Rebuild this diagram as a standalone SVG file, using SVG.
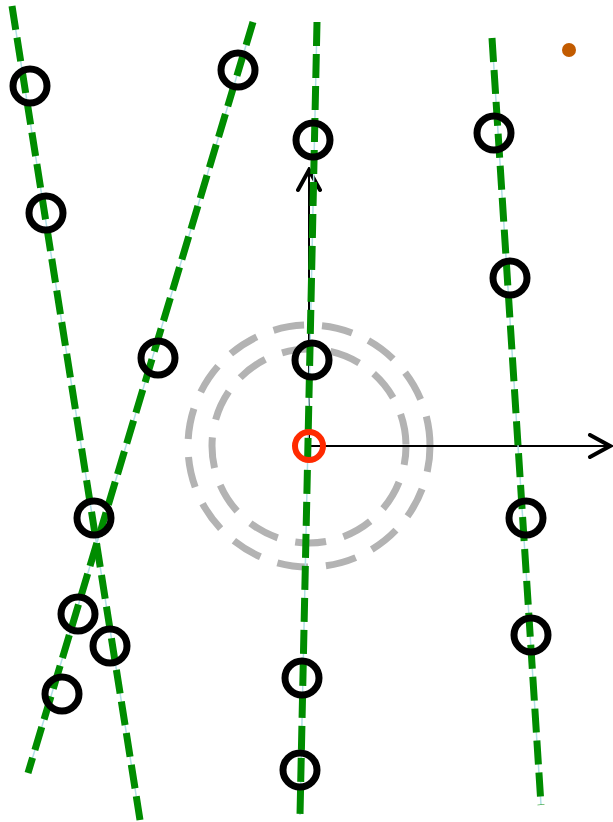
<svg xmlns="http://www.w3.org/2000/svg" width="613" height="822" viewBox="0 0 613 822">
  <style>
    .guide { stroke: #b0e0e6; stroke-width: 1.5; fill: none; }
    .track { stroke: #008c00; stroke-width: 7; stroke-dasharray: 24 8; fill: none; }
    .ring { fill: none; stroke: #000; stroke-width: 7; }
    .halo { fill: none; stroke: #b3b3b3; stroke-width: 7; stroke-dasharray: 31 18; }
    .axis { stroke: #000; stroke-width: 2; fill: none; }
  </style>
  <defs>
    <marker id="chev" viewBox="0 0 26 26" refX="23" refY="13" markerWidth="26" markerHeight="26" markerUnits="userSpaceOnUse" orient="auto">
      <path d="M3,2 L23,13 L3,24" fill="none" stroke="#000" stroke-width="4" stroke-linecap="round" stroke-linejoin="miter"/>
    </marker>
  </defs>

  <!-- range halos around origin -->
  <g id="halos">
    <circle class="halo" cx="309" cy="446" r="121" stroke-dashoffset="5"/>
    <circle class="halo" cx="309" cy="446" r="97" stroke-dashoffset="12"/>
  </g>

  <!-- coordinate axes -->
  <g id="axes">
    <line class="axis" x1="309" y1="446" x2="610" y2="446" marker-end="url(#chev)"/>
    <line class="axis" x1="309" y1="446" x2="309" y2="170" marker-end="url(#chev)"/>
  </g>

  <!-- fitted lines -->
  <g id="connectors">
    <line class="guide" x1="12" y1="6" x2="140" y2="820"/>
    <line class="track" x1="12" y1="6" x2="140" y2="820"/>
    <line class="guide" x1="253" y1="22" x2="28" y2="773"/>
    <line class="track" x1="253" y1="22" x2="28" y2="773"/>
    <line class="guide" x1="317" y1="22" x2="300" y2="815"/>
    <line class="track" x1="317" y1="22" x2="300" y2="815"/>
    <line class="guide" x1="492" y1="38" x2="541" y2="805"/>
    <line class="track" x1="492" y1="38" x2="541" y2="805"/>
  </g>

  <!-- detections -->
  <g id="n1"><circle class="ring" cx="30" cy="86" r="17"/></g>
  <g id="n2"><circle class="ring" cx="46" cy="213" r="17"/></g>
  <g id="n3"><circle class="ring" cx="238" cy="70" r="17"/></g>
  <g id="n4"><circle class="ring" cx="158" cy="358" r="17"/></g>
  <g id="n5"><circle class="ring" cx="313" cy="140" r="17"/></g>
  <g id="n6"><circle class="ring" cx="312" cy="360" r="17"/></g>
  <g id="n7"><circle class="ring" cx="494" cy="133" r="17"/></g>
  <g id="n8"><circle class="ring" cx="510" cy="278" r="17"/></g>
  <g id="n9"><circle class="ring" cx="94" cy="518" r="17"/></g>
  <g id="n10"><circle class="ring" cx="78" cy="614" r="17"/></g>
  <g id="n11"><circle class="ring" cx="110" cy="646" r="17"/></g>
  <g id="n12"><circle class="ring" cx="62" cy="694" r="17"/></g>
  <g id="n13"><circle class="ring" cx="302" cy="678" r="17"/></g>
  <g id="n14"><circle class="ring" cx="300" cy="770" r="17"/></g>
  <g id="n15"><circle class="ring" cx="526" cy="518" r="17"/></g>
  <g id="n16"><circle class="ring" cx="531" cy="635" r="17"/></g>

  <!-- origin -->
  <g id="origin"><circle cx="309" cy="446" r="14" fill="none" stroke="#ff2a00" stroke-width="6"/></g>

  <!-- marker point -->
  <g id="beacon"><circle cx="569" cy="50" r="7" fill="#c25b00"/></g>
</svg>
